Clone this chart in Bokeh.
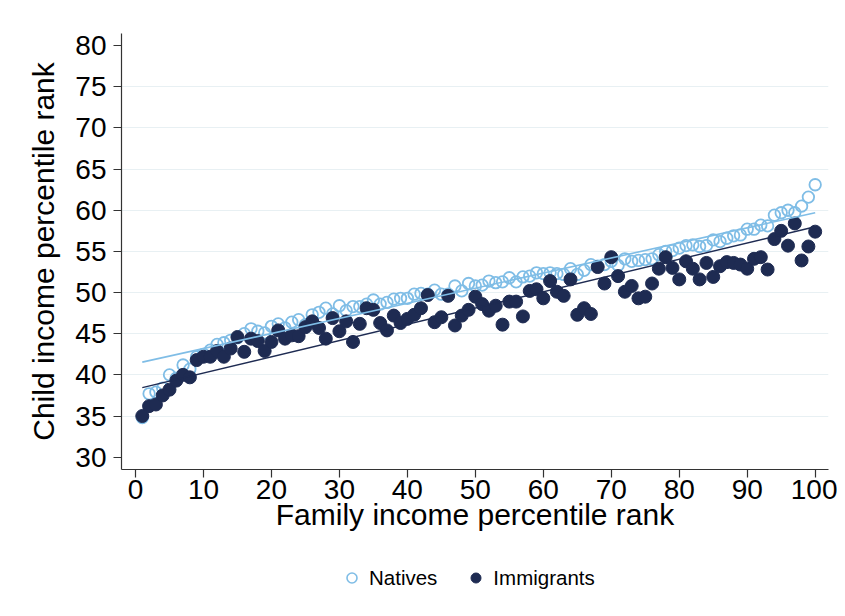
from bokeh.plotting import figure
from bokeh.layouts import column
from bokeh.models import Legend, LegendItem, FixedTicker, ColumnDataSource
from bokeh.embed import file_html
from bokeh.resources import INLINE

rank = list(range(1, 101))

natives = [
    34.8, 37.7, 37.9, 38.4, 40.0, 39.6, 41.2, 40.7, 42.2, 42.5,
    43.0, 43.7, 43.9, 44.2, 44.5, 45.0, 45.6, 45.3, 45.1, 45.9,
    46.2, 45.7, 46.4, 46.7, 46.1, 47.3, 47.6, 48.1, 47.4, 48.4,
    47.8, 48.3, 48.3, 48.6, 49.1, 48.6, 48.8, 49.2, 49.3, 49.3,
    49.8, 49.9, 49.8, 50.3, 49.8, 49.8, 50.8, 50.2, 51.1, 50.8,
    50.9, 51.4, 51.2, 51.3, 51.8, 51.3, 51.9, 52.0, 52.4, 52.3,
    52.4, 52.3, 52.2, 52.9, 52.2, 52.7, 53.4, 53.2, 53.4, 53.8,
    53.3, 54.1, 53.8, 53.9, 54.0, 54.1, 54.6, 55.0, 55.1, 55.4,
    55.7, 55.8, 55.6, 55.7, 56.4, 56.2, 56.6, 56.9, 57.0, 57.7,
    57.7, 58.2, 58.1, 59.4, 59.7, 60.0, 59.7, 60.5, 61.6, 63.1,
]

immigrants = [
    35.0, 36.2, 36.4, 37.5, 38.2, 39.3, 40.0, 39.7, 41.8, 42.2,
    42.2, 42.9, 42.2, 43.2, 44.6, 42.8, 44.4, 44.1, 42.9, 44.0,
    45.4, 44.4, 44.8, 44.7, 45.8, 46.5, 45.7, 44.4, 46.9, 45.3,
    46.5, 44.0, 46.2, 48.1, 47.9, 46.3, 45.4, 47.2, 46.3, 46.8,
    47.3, 48.1, 49.7, 46.4, 47.0, 49.6, 46.0, 47.2, 47.9, 49.5,
    48.6, 47.8, 48.4, 46.1, 48.9, 48.9, 47.1, 50.2, 50.4, 49.3,
    51.4, 50.1, 49.6, 51.6, 47.3, 48.1, 47.4, 53.1, 51.1, 54.3,
    52.0, 50.1, 50.8, 49.3, 49.5, 51.1, 52.9, 54.3, 53.0, 51.6,
    53.8, 52.9, 51.6, 53.6, 51.9, 53.2, 53.7, 53.6, 53.4, 52.9,
    54.1, 54.3, 52.8, 56.5, 57.5, 55.7, 58.4, 53.9, 55.6, 57.4,
]

# fitted (linear) lines as shown in the chart, at ranks 1 and 100
fit_rank = [1, 100]
natives_fit = [41.55, 59.7]
immigrants_fit = [38.45, 58.0]

x_ticks = [0, 10, 20, 30, 40, 50, 60, 70, 80, 90, 100]
y_ticks = [30, 35, 40, 45, 50, 55, 60, 65, 70, 75, 80]
grid_ticks = [35, 40, 45, 50, 55, 60, 65, 70, 75]

series_labels = ["Natives", "Immigrants"]

LIGHT = "#7fbde6"
NAVY = "#1e2b52"
FONT = "Liberation Sans"

src = ColumnDataSource(dict(x=rank, n=natives, i=immigrants))
fit_src = ColumnDataSource(dict(x=fit_rank, yn=natives_fit, yi=immigrants_fit))

p = figure(
    frame_width=707, frame_height=436,
    x_range=(-2.06, 101.96), y_range=(28.5, 81.48),
    output_backend="svg", toolbar_location=None,
    min_border_left=121, min_border_top=33, min_border_right=9,
    min_border_bottom=92,
    background_fill_color="white", border_fill_color="white",
)
p.outline_line_color = None

p.scatter("x", "n", source=src, marker="circle", size=11.5,
          fill_color=None, line_color=LIGHT, line_width=1.8)
p.scatter("x", "i", source=src, marker="circle", size=13,
          fill_color=NAVY, line_color=NAVY, line_width=1)
p.line("x", "yn", source=fit_src, line_color=LIGHT, line_width=1.6)
p.line("x", "yi", source=fit_src, line_color=NAVY, line_width=1.4)

for ax in (p.xaxis[0], p.yaxis[0]):
    ax.axis_line_color = "#333333"
    ax.axis_line_width = 1.2
    ax.major_tick_line_color = "#333333"
    ax.major_tick_line_width = 1.2
    ax.major_tick_out = 8
    ax.major_tick_in = 0
    ax.minor_tick_line_color = None
    ax.major_label_text_font = FONT
    ax.major_label_text_font_size = "28px"
    ax.major_label_text_color = "black"
    ax.axis_label_text_font = FONT
    ax.axis_label_text_font_size = "30px"
    ax.axis_label_text_font_style = "normal"
    ax.axis_label_text_color = "black"

p.xaxis.ticker = FixedTicker(ticks=x_ticks)
p.yaxis.ticker = FixedTicker(ticks=y_ticks)
p.xaxis.axis_label = "Family income percentile rank"
p.yaxis.axis_label = "Child income percentile rank"
p.xaxis.major_label_standoff = 2
p.xaxis.axis_label_standoff = -4
p.yaxis.major_label_standoff = 7
p.yaxis.axis_label_standoff = 12

p.xgrid.grid_line_color = None
p.ygrid.ticker = FixedTicker(ticks=grid_ticks)
p.ygrid.grid_line_color = "#e8f0f3"
p.ygrid.grid_line_width = 1.2

# legend strip below the chart (its frame is aligned with the chart's frame)
lg = figure(
    width=838, height=40, x_range=(0, 1), y_range=(0, 1),
    x_axis_type=None, y_axis_type=None,
    output_backend="svg", toolbar_location=None, min_border=0,
    background_fill_color="white", border_fill_color="white",
)
lg.outline_line_color = None
lg.grid.visible = False
# key glyphs: one point each, placed outside the visible range
ln = lg.scatter(x=[-5], y=[-5], marker="circle", size=10, fill_color=None,
                line_color=LIGHT, line_width=1.6)
li = lg.scatter(x=[-5], y=[-5], marker="circle", size=11, fill_color=NAVY,
                line_color=NAVY)
legend = Legend(
    items=[LegendItem(label=series_labels[0], renderers=[ln]),
           LegendItem(label=series_labels[1], renderers=[li])],
    orientation="horizontal", location=(218, 11),
    border_line_color=None, background_fill_alpha=0,
    label_text_font=FONT, label_text_font_size="20.5px",
    label_text_color="black",
    glyph_width=25, glyph_height=25, label_standoff=5, spacing=26,
    margin=0, padding=0,
)
lg.add_layout(legend, "center")

layout = column(p, lg, spacing=0)
open("out.html", "w").write(file_html(layout, INLINE))
